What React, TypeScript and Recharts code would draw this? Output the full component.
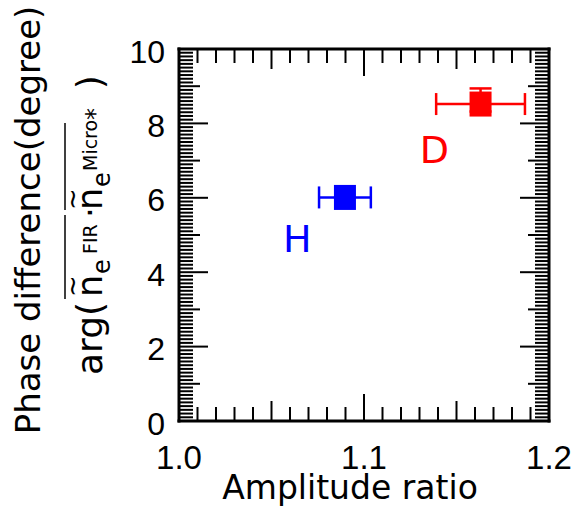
import { ScatterChart, Scatter, XAxis, YAxis, ErrorBar } from 'recharts';

// ─── Data ─────────────────────────────────────────────────────────────────────

const SPECIES = ['H', 'D'];
const SPECIES_COLORS = ['#0000ff', '#ff0000'];
const AMPLITUDE_RATIO = [1.0897, 1.163];
const AMPLITUDE_ERR = [0.014, 0.024];
const PHASE_DIFF = [6.01, 8.52];
const PHASE_ERR: Array<[number, number]> = [[0, 0], [0.2, 0.42]];
const NAME_AMPLITUDE = [1.064, 1.138];
const NAME_PHASE = [4.92, 7.31];

const X_DOMAIN: [number, number] = [1.0, 1.2];
const Y_DOMAIN: [number, number] = [0, 10];
const X_TICK_LABELS = [1.0, 1.1, 1.2];
const Y_TICK_LABELS = [0, 2, 4, 6, 8, 10];

// ─── Helpers ─────────────────────────────────────────────────────────────────

const TICK_FONT = "'Liberation Sans', Arial, sans-serif";
const TITLE_FONT = "'DejaVu Sans', Verdana, sans-serif";

function steps(lo: number, hi: number, n: number): number[] {
    const out: number[] = [];
    for (let i = 0; i <= n; i += 1) out.push(Number((lo + ((hi - lo) * i) / n).toFixed(4)));
    return out;
}

const X_TICKS = steps(X_DOMAIN[0], X_DOMAIN[1], 20);
const Y_TICKS = steps(Y_DOMAIN[0], Y_DOMAIN[1], 100);

const xTickLen = (v: number) => {
    const k = Math.round(v * 100);
    return k % 10 === 0 ? 27 : k % 5 === 0 ? 20 : 14;
};
const yTickLen = (v: number) => {
    const k = Math.round(v * 10);
    return k % 20 === 0 ? 29 : k % 10 === 0 ? 21 : 14;
};
const isLabel = (list: number[], v: number) => list.some((t) => Math.abs(t - v) < 1e-6);

// ─── Ticks (all drawn inward) ────────────────────────────────────────────────

const BottomTick = (p: any) => {
    const v = p.payload.value;
    return (
        <g>
            <line x1={p.x} x2={p.x} y1={p.y} y2={p.y - xTickLen(v)} stroke="#000" strokeWidth={2} />
            {isLabel(X_TICK_LABELS, v) && (
                <text x={p.x} y={p.y + 48} textAnchor="middle" fontSize={33} fontFamily={TICK_FONT} fill="#000">
                    {v.toFixed(1)}
                </text>
            )}
        </g>
    );
};

const TopTick = (p: any) => (
    <line x1={p.x} x2={p.x} y1={p.y} y2={p.y + xTickLen(p.payload.value)} stroke="#000" strokeWidth={2} />
);

const LeftTick = (p: any) => {
    const v = p.payload.value;
    return (
        <g>
            <line x1={p.x} x2={p.x + yTickLen(v)} y1={p.y} y2={p.y} stroke="#000" strokeWidth={2} />
            {isLabel(Y_TICK_LABELS, v) && (
                <text x={p.x - 14} y={p.y + 13.5} textAnchor="end" fontSize={32} fontFamily={TICK_FONT} fill="#000">
                    {String(v)}
                </text>
            )}
        </g>
    );
};

const RightTick = (p: any) => (
    <line x1={p.x} x2={p.x - yTickLen(p.payload.value)} y1={p.y} y2={p.y} stroke="#000" strokeWidth={2} />
);

// ─── Titles ──────────────────────────────────────────────────────────────────

const XTitle = () => (
    <text x={350} y={499} textAnchor="middle" fontSize={33} fontFamily={TITLE_FONT} fill="#000">
        Amplitude ratio
    </text>
);

const YTitle = () => (
    <g fontFamily={TITLE_FONT} fill="#000">
        <text transform="translate(40,220) rotate(-90)" textAnchor="middle" fontSize={34}>
            Phase difference(degree)
        </text>
        <g transform="translate(102,375) rotate(-90)">
            <text x={0} y={0} fontSize={36}>arg(</text>
            <text x={78} y={0} fontSize={35}>n</text>
            <text x={89} y={-21} fontSize={26} textAnchor="middle">~</text>
            <text x={101} y={8} fontSize={24}>e</text>
            <text x={121} y={-5} fontSize={19}>FIR</text>
            <line x1={76} x2={160} y1={-37} y2={-37} stroke="#000" strokeWidth={1.5} />
            <text x={157} y={0} fontSize={34}>·</text>
            <text x={165} y={0} fontSize={35}>n</text>
            <text x={176} y={-21} fontSize={26} textAnchor="middle">~</text>
            <text x={188} y={8} fontSize={24}>e</text>
            <text x={204} y={-5} fontSize={19}>Micro</text>
            <text x={255} y={1} fontSize={24}>*</text>
            <line x1={165} x2={252} y1={-37} y2={-37} stroke="#000" strokeWidth={1.5} />
            <text x={286} y={0} fontSize={35}>)</text>
        </g>
    </g>
);

// ─── Component ────────────────────────────────────────────────────────────────

export default function App() {
    const points = SPECIES.map((name, i) => ({
        name,
        color: SPECIES_COLORS[i],
        data: [{
            x: AMPLITUDE_RATIO[i],
            y: PHASE_DIFF[i],
            xErr: AMPLITUDE_ERR[i],
            yErr: PHASE_ERR[i],
        }],
        label: [{ x: NAME_AMPLITUDE[i], y: NAME_PHASE[i] }],
    }));

    const axisLine = { stroke: '#000', strokeWidth: 3, strokeLinecap: 'square' as const };

    return (
        <div style={{ position: 'absolute', left: 0, top: 0, width: 574, height: 508, background: '#fff' }}>
            <ScatterChart width={574} height={508} margin={{ top: 48, right: 24, bottom: 0, left: 0 }}>
                <XAxis
                    xAxisId="b" type="number" dataKey="x" domain={X_DOMAIN} allowDataOverflow
                    ticks={X_TICKS} interval={0} tickSize={0} tickMargin={0} tickLine={false}
                    tick={BottomTick} axisLine={axisLine} height={87}
                    label={{ content: XTitle }}
                />
                <XAxis
                    xAxisId="t" orientation="top" type="number" dataKey="x" domain={X_DOMAIN} allowDataOverflow
                    ticks={X_TICKS} interval={0} tickSize={0} tickMargin={0} tickLine={false}
                    tick={TopTick} axisLine={axisLine} height={1}
                />
                <YAxis
                    yAxisId="l" type="number" dataKey="y" domain={Y_DOMAIN} allowDataOverflow
                    ticks={Y_TICKS} interval={0} tickSize={0} tickMargin={0} tickLine={false}
                    tick={LeftTick} axisLine={axisLine} width={179}
                    label={{ content: YTitle }}
                />
                <YAxis
                    yAxisId="r" orientation="right" type="number" dataKey="y" domain={Y_DOMAIN} allowDataOverflow
                    ticks={Y_TICKS} interval={0} tickSize={0} tickMargin={0} tickLine={false}
                    tick={RightTick} axisLine={axisLine} width={1}
                />
                {/* mirror frame: a series on the top/right axes so they get drawn */}
                <Scatter
                    xAxisId="t"
                    yAxisId="r"
                    data={points.map((s) => s.data[0])}
                    fill="none"
                    shape={() => <g />}
                    isAnimationActive={false}
                />
                {points.map((s) => (
                    <Scatter
                        key={s.name}
                        xAxisId="b"
                        yAxisId="l"
                        data={s.data}
                        fill={s.color}
                        isAnimationActive={false}
                        shape={(p: any) => (
                            <rect x={p.cx - 11} y={p.cy - 12.5} width={22} height={25} fill={s.color} />
                        )}
                    >
                        <ErrorBar dataKey="xErr" direction="x" width={11} stroke={s.color} strokeWidth={2.5} isAnimationActive={false} />
                        <ErrorBar dataKey="yErr" direction="y" width={11} stroke={s.color} strokeWidth={2.5} isAnimationActive={false} />
                    </Scatter>
                ))}
                {points.map((s) => (
                    <Scatter
                        key={`${s.name}-label`}
                        xAxisId="b"
                        yAxisId="l"
                        data={s.label}
                        isAnimationActive={false}
                        shape={(p: any) => (
                            <text x={p.cx} y={p.cy} dy="0.36em" textAnchor="middle" fontSize={38} fontFamily={TITLE_FONT} fill={s.color}>
                                {s.name}
                            </text>
                        )}
                    />
                ))}
            </ScatterChart>
        </div>
    );
}
